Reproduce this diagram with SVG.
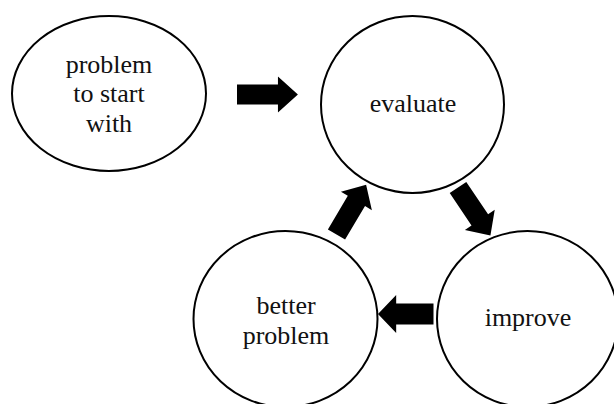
<svg xmlns="http://www.w3.org/2000/svg" xmlns:xlink="http://www.w3.org/1999/xlink" width="614" height="404" viewBox="0 0 614 404">
  <style>
    .node { fill: #ffffff; stroke: #000000; stroke-width: 2; }
    .label { font-family: "Liberation Serif", "Times New Roman", serif; font-size: 26px; fill: #111111; text-anchor: middle; }
    .arrow { fill: #000000; stroke: none; }
  </style>
  <defs>
    <path id="arrowShape" d="M0,-10 H39 V-18 L58,0 L39,18 V10 H0 Z"/>
  </defs>
  <rect width="614" height="404" fill="#ffffff"/>
  <g id="connectors">
    <use xlink:href="#arrowShape" href="#arrowShape" class="arrow" transform="translate(237,94.5) scale(1.05,1)"/>
    <use xlink:href="#arrowShape" href="#arrowShape" class="arrow" transform="translate(458,187.5) rotate(56)"/>
    <use xlink:href="#arrowShape" href="#arrowShape" class="arrow" transform="translate(433.5,314) rotate(180) scale(0.957,1.05)"/>
    <use xlink:href="#arrowShape" href="#arrowShape" class="arrow" transform="translate(336.5,234.5) rotate(-59.3)"/>
  </g>
  <g id="node-start">
    <ellipse class="node" cx="109" cy="93.5" rx="97" ry="77.5"/>
    <text class="label" x="109" y="73">problem</text>
    <text class="label" x="109" y="102">to start</text>
    <text class="label" x="109" y="132">with</text>
  </g>
  <g id="node-evaluate">
    <ellipse class="node" cx="412.5" cy="104.5" rx="91.5" ry="88.5"/>
    <text class="label" x="413" y="112">evaluate</text>
  </g>
  <g id="node-better">
    <ellipse class="node" cx="285.5" cy="319" rx="92" ry="88"/>
    <text class="label" x="286" y="314">better</text>
    <text class="label" x="286" y="344">problem</text>
  </g>
  <g id="node-improve">
    <ellipse class="node" cx="527.5" cy="319" rx="90.5" ry="88"/>
    <text class="label" x="528" y="326">improve</text>
  </g>
</svg>
